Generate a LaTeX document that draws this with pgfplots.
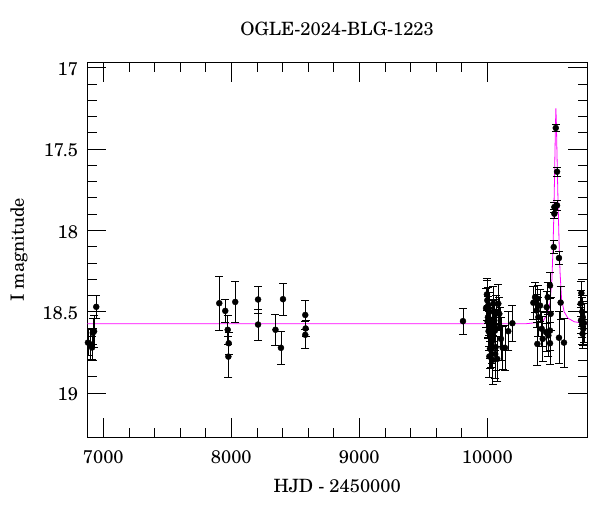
\documentclass[border=0pt]{standalone}
\usepackage{fontspec}
\setmainfont{TeX Gyre Schola}
\usepackage{pgfplots}
\pgfplotsset{compat=1.18}
\usepackage{pgfplotstable}
\definecolor{fitmag}{RGB}{255,0,255}

% I-band photometry: HJD-2450000, mag, error
\pgfplotstableread{
x y e
6880 18.69 0.08
6898 18.70 0.09
6912 18.72 0.07
6918 18.63 0.09
6928 18.62 0.10
6945 18.47 0.07
7906 18.448 0.165
7953 18.495 0.07
7972 18.611 0.09
7980 18.694 0.07
7977 18.776 0.127
8031 18.44 0.126
8209 18.425 0.084
8209 18.579 0.095
8345 18.611 0.097
8388 18.722 0.10
8404 18.423 0.10
8578 18.52 0.09
8581 18.603 0.05
8578 18.642 0.08
9810 18.558 0.079
9990 18.478 0.12
9997 18.394 0.10
10000 18.43 0.12
10003 18.56 0.10
10005 18.534 0.13
10008 18.46 0.11
10010 18.62 0.12
10013 18.595 0.12
10016 18.775 0.13
10018 18.50 0.12
10021 18.646 0.14
10021 18.728 0.12
10025 18.58 0.10
10030 18.70 0.14
10034 18.688 0.13
10038 18.55 0.12
10042 18.796 0.15
10047 18.451 0.11
10050 18.62 0.12
10055 18.554 0.13
10060 18.616 0.12
10062 18.76 0.15
10065 18.718 0.14
10070 18.50 0.10
10078 18.79 0.14
10086 18.451 0.12
10094 18.513 0.10
10099 18.595 0.12
10107 18.667 0.13
10120 18.722 0.13
10138 18.722 0.14
10164 18.62 0.12
10196 18.571 0.11
10360 18.445 0.10
10373 18.411 0.09
10386 18.493 0.10
10394 18.42 0.08
10399 18.534 0.12
10391 18.698 0.13
10412 18.462 0.10
10425 18.605 0.11
10433 18.667 0.14
10459 18.626 0.12
10464 18.472 0.10
10472 18.411 0.09
10477 18.646 0.13
10490 18.339 0.08
10495 18.513 0.10
10490 18.616 0.12
10490 18.694 0.13
10519 18.103 0.04
10524 17.857 0.03
10524 17.898 0.03
10535 17.371 0.02
10545 17.64 0.03
10545 17.847 0.03
10560 18.17 0.04
10573 18.444 0.10
10560 18.66 0.16
10599 18.69 0.15
10735 18.386 0.07
10730 18.45 0.08
10742 18.50 0.09
10746 18.534 0.10
10732 18.554 0.08
10750 18.605 0.10
10744 18.636 0.09
10755 18.57 0.12
10740 18.58 0.08
}\photdata

% model light curve
\pgfplotstableread{
x y
6875 18.574
10300 18.574
10400 18.566
10440 18.552
10470 18.515
10490 18.445
10505 18.30
10513 18.12
10520 17.90
10527 17.60
10532 17.38
10536 17.25
10540 17.35
10545 17.55
10552 17.80
10560 18.05
10568 18.25
10580 18.42
10600 18.50
10630 18.54
10680 18.562
10780 18.574
}\modeldata

\begin{document}
\begin{tikzpicture}
\useasboundingbox (0,0) rectangle (600pt,512pt);
\begin{axis}[
    at={(87.3pt,75pt)},
    anchor=south west,
    scale only axis,
    width=499.7pt,
    height=374.3pt,
    font=\fontsize{18.3}{21}\selectfont,
    xmin=6875, xmax=10779,
    ymin=16.97, ymax=19.27,
    y dir=reverse,
    xtick={7000,8000,9000,10000},
    ytick={17,17.5,18,18.5,19},
    minor x tick num=4,
    minor y tick num=4,
    major tick length=19pt,
    minor tick length=9.5pt,
    tick style={black, line width=0.6pt},
    axis line style={line width=0.9pt},
    scaled x ticks=false,
    /pgf/number format/1000 sep={},
    /pgf/number format/assume math mode=true,
    xticklabel style={anchor=base, yshift=-26.3pt},
    yticklabel style={anchor=east, inner sep=0pt, xshift=-9pt, yshift=-1.5pt},
    title={OGLE-2024-BLG-1223},
    title style={at={(axis description cs:0.5,1.0561)}, anchor=base},
    xlabel={HJD - 2450000},
    xlabel style={at={(axis description cs:0.5,-0.1477)}, anchor=base},
    ylabel={I magnitude},
    ylabel style={at={(axis description cs:-0.1267,0.5)}, anchor=base},
]
\addplot[color=fitmag, line width=0.8pt] table[x=x, y=y] {\modeldata};

\addplot[only marks, mark=*, mark size=3pt, black,
    error bars/.cd,
    y dir=both, y explicit,
    error bar style={black, line width=0.6pt},
    error mark options={black, rotate=90, mark size=4pt, line width=0.6pt},
] table[x=x, y=y, y error=e] {\photdata};
\end{axis}
\end{tikzpicture}
\end{document}
